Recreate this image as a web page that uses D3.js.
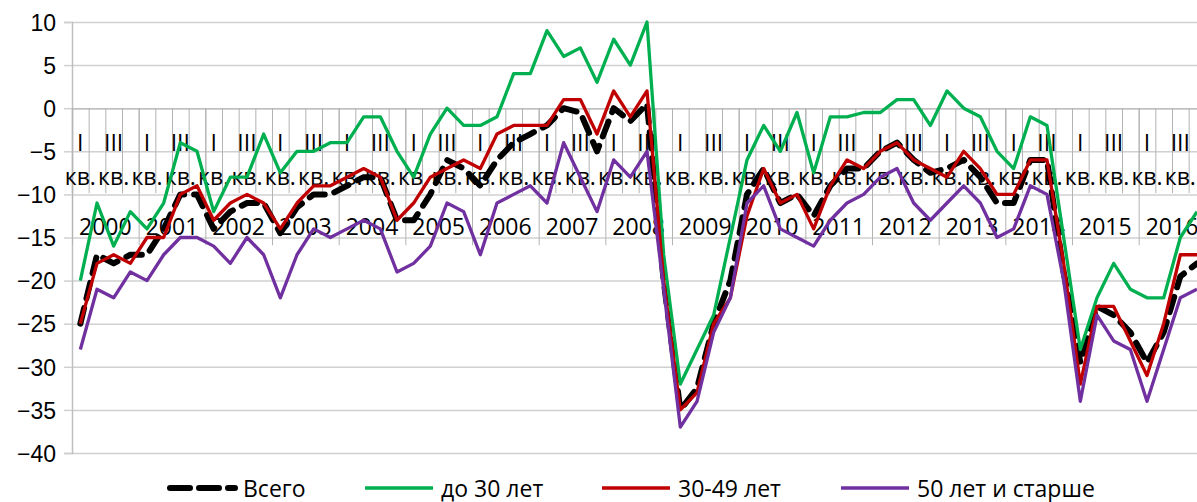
<!DOCTYPE html>
<html>
<head>
<meta charset="utf-8">
<script src="https://cdn.jsdelivr.net/npm/d3@7"></script>
<style>
  body { margin: 0; background: #fff; }
  svg { display: block; font-family: "Open Sans", sans-serif; }
</style>
</head>
<body>
<svg id="chart" width="1197" height="502"></svg>
<script>
// years and quarter names for the two-level category axis
var years = ["2000","2001","2002","2003","2004","2005","2006","2007","2008",
             "2009","2010","2011","2012","2013","2014","2015","2016"];
var quarters = ["I", "II", "III", "IV"];
var qSuffix = "кв.";
var yTicks = [10, 5, 0, -5, -10, -15, -20, -25, -30, -35, -40];

// series, one value per quarter 2000 I .. 2016 IV
var total = [-25,-17,-18,-17, -17,-14,-10,-10, -14,-12,-11,-11, -14.5,-11.5,-10,-10,
             -9,-8,-8,-13, -13,-10,-6,-7, -9,-6,-4,-3, -2,0,-0.5,-5,
             0,-1.5,0.5,-20, -35,-32.5,-25,-20, -10,-7,-11,-10, -12.5,-9,-7,-7,
             -5,-4,-6,-7.5, -7,-6,-8,-11, -11,-6,-6,-19, -29.5,-23,-24,-26,
             -29.5,-26,-19.5,-18];
var under30 = [-20,-11,-16,-12, -14,-11,-4,-5, -12,-8,-8,-3, -7.5,-5,-5,-4,
               -4,-1,-1,-5, -8,-3,0,-2, -2,-1,4,4, 9,6,7,3,
               8,5,10,-17, -32,-28,-24,-15, -6,-2,-5,-0.5, -7.5,-1,-1,-0.5,
               -0.5,1,1,-2, 2,0,-1,-5, -7,-1,-2,-15, -28,-22,-18,-21,
               -22,-22,-15,-12];
var age30to49 = [-25,-18,-17,-18, -15,-15,-10,-9, -13,-11,-10,-11, -14,-11,-9,-9,
                 -8,-7,-8,-13, -11,-8,-7,-6, -7,-3,-2,-2, -2,1,1,-3,
                 2,-1,2,-20, -35,-33,-25,-22, -12.5,-7,-11,-10, -14,-9,-6,-7,
                 -5,-4,-6,-7, -8,-5,-7,-10, -10,-6,-6,-18, -32,-23,-23,-27,
                 -31,-25,-17,-17];
var over50 = [-28,-21,-22,-19, -20,-17,-15,-15, -16,-18,-15,-17, -22,-17,-14,-15,
              -14,-13,-14,-19, -18,-16,-11,-12, -17,-11,-10,-9, -11,-4,-8,-12,
              -6,-8,-5,-21, -37,-34,-26,-22, -11,-9,-14,-15, -16,-13,-11,-10,
              -8,-7,-11,-13, -11,-9,-11,-15, -14,-9,-10,-20, -34,-24,-27,-28,
              -34,-28,-22,-21];

var series = [
  {name: "Всего", values: total, color: "#000000", width: 6, dash: "16,10"},
  {name: "до 30 лет", values: under30, color: "#00b050", width: 3.3, dash: null},
  {name: "30-49 лет", values: age30to49, color: "#c00000", width: 3.3, dash: null},
  {name: "50 лет и старше", values: over50, color: "#7030a0", width: 3.3, dash: null}
];

var categories = [];
years.forEach(function(yr) {
  quarters.forEach(function(q) { categories.push({year: yr, q: q}); });
});

var svg = d3.select("#chart");
var plotLeft = 72, plotTop = 22, plotBottom = 453;
var qw = 200 / 12;
var plotRight = plotLeft + categories.length * qw;

var x = d3.scaleBand()
    .domain(d3.range(categories.length))
    .range([plotLeft, plotRight])
    .padding(0);
var y = d3.scaleLinear().domain([-40, 10]).range([plotBottom, plotTop]);

// horizontal grid
var grid = d3.axisLeft(y).tickValues(yTicks).tickSize(-(plotRight - plotLeft)).tickFormat("");
var gg = svg.append("g").attr("transform", "translate(" + plotLeft + ",0)").call(grid);
gg.select(".domain").remove();
gg.selectAll(".tick line").attr("stroke", "#d0d0d0").attr("stroke-width", 1.5);

// y axis with labels
var yAxis = d3.axisLeft(y).tickValues(yTicks).tickSize(8).tickFormat(d3.format("d"));
var gy = svg.append("g").attr("transform", "translate(" + plotLeft + ",0)").call(yAxis);
gy.select(".domain").attr("stroke", "#bfbfbf").attr("stroke-width", 1.5);
gy.selectAll(".tick line").attr("stroke", "#d0d0d0").attr("stroke-width", 1.5);
gy.selectAll(".tick text").attr("font-size", 23).attr("fill", "#000")
  .attr("x", -16).attr("dy", "0.36em");

// category separators hanging from y = 0
var y0 = y(0);
var bounds = d3.range(categories.length + 1);
var sepScale = d3.scaleLinear().domain([0, categories.length]).range([plotLeft, plotRight]);
var qAxis = d3.axisBottom(sepScale).tickValues(bounds).tickSize(85).tickFormat("");
var gq = svg.append("g").attr("transform", "translate(0," + y0 + ")").call(qAxis);
gq.select(".domain").attr("stroke", "#bfbfbf").attr("stroke-width", 1.5);
gq.selectAll(".tick line").attr("stroke", "#b4b4b4").attr("stroke-width", 1);

var yearBounds = bounds.filter(function(b) { return b % 4 === 0; });
var yrAxis = d3.axisBottom(sepScale).tickValues(yearBounds).tickSize(137).tickFormat("");
var gyr = svg.append("g").attr("transform", "translate(0," + y0 + ")").call(yrAxis);
gyr.select(".domain").remove();
gyr.selectAll(".tick line").attr("stroke", "#b4b4b4").attr("stroke-width", 1);

// quarter labels (every second category)
var shown = categories.map(function(c, i) { return {c: c, i: i}; })
    .filter(function(d) { return d.i % 2 === 0; });
var ql = svg.append("g").attr("font-size", 23).attr("text-anchor", "middle").attr("fill", "#000");
ql.selectAll("text.q").data(shown).enter().append("text").attr("class", "q")
  .attr("x", function(d) { return x(d.i) + x.bandwidth() / 2; })
  .attr("y", 151)
  .text(function(d) { return d.c.q; });
ql.selectAll("text.k").data(shown).enter().append("text").attr("class", "k")
  .attr("x", function(d) { return x(d.i) + x.bandwidth() / 2; })
  .attr("y", 185)
  .text(qSuffix);

// year labels
svg.append("g").attr("font-size", 23).attr("text-anchor", "middle").attr("fill", "#000")
  .selectAll("text").data(years).enter().append("text")
  .attr("x", function(d, i) { return sepScale(i * 4 + 2); })
  .attr("y", 235)
  .text(function(d) { return d; });

// lines
var line = d3.line()
    .x(function(d, i) { return x(i) + x.bandwidth() / 2; })
    .y(function(d) { return y(d); });

series.forEach(function(s) {
  svg.append("path")
    .datum(s.values)
    .attr("fill", "none")
    .attr("stroke", s.color)
    .attr("stroke-width", s.width)
    .attr("stroke-linejoin", "round")
    .attr("stroke-linecap", s.dash ? "round" : "butt")
    .attr("stroke-dasharray", s.dash)
    .attr("d", line);
});

// legend
var legendX = [167, 365, 602, 841];
var lg = svg.append("g").attr("font-size", 23).attr("fill", "#000");
series.forEach(function(s, i) {
  var g = lg.append("g").attr("transform", "translate(" + legendX[i] + ",488)");
  g.append("line")
    .attr("x1", s.dash ? 3 : 0).attr("x2", 68)
    .attr("stroke", s.color).attr("stroke-width", s.width)
    .attr("stroke-linecap", s.dash ? "round" : "butt")
    .attr("stroke-dasharray", s.dash ? "20,9" : null);
  g.append("text").attr("x", 76).attr("y", 9).text(s.name);
});
</script>
</body>
</html>
